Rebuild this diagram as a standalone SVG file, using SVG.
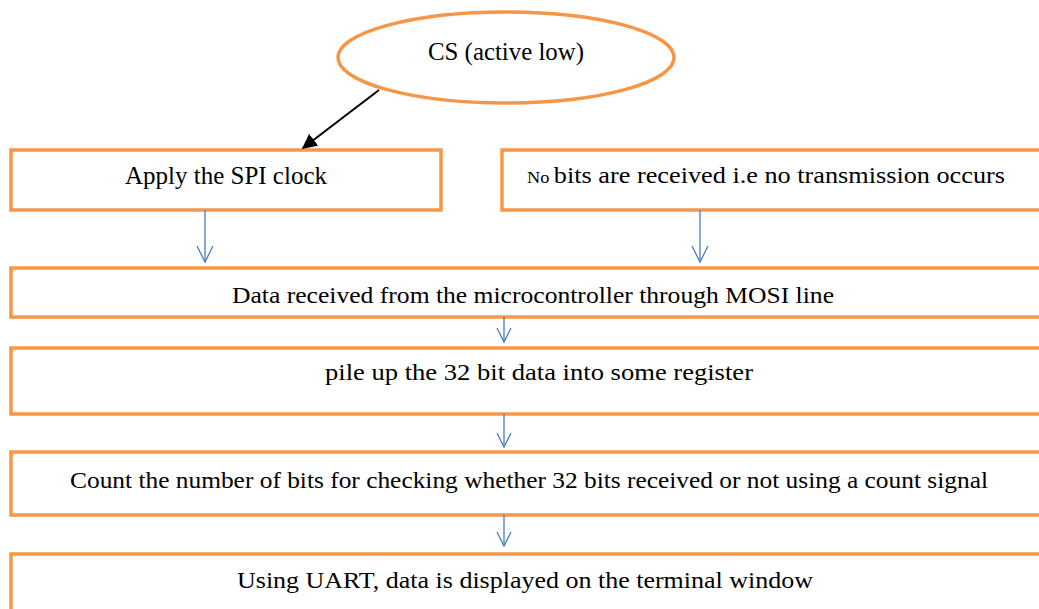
<svg xmlns="http://www.w3.org/2000/svg" width="1039" height="609" viewBox="0 0 1039 609">
  <style>
    .box { fill: #ffffff; stroke: #F79646; stroke-width: 3.5; }
    .lbl { font-family: "Liberation Serif", "Times New Roman", serif; font-size: 23px; fill: #000000; text-anchor: middle; }
    .top { font-size: 24.5px; }
    .flow { stroke: #4A7EBB; stroke-width: 1.3; fill: none; }
    .head { stroke: #4A7EBB; stroke-width: 1.3; fill: none; }
  </style>
  <defs>
    <marker id="solidArrow" viewBox="0 0 10 10" refX="9" refY="5" markerWidth="15" markerHeight="15" markerUnits="userSpaceOnUse" orient="auto">
      <path d="M0,0 L10,5 L0,10 z" fill="#000000"/>
    </marker>
  </defs>
  <rect width="1039" height="609" fill="#ffffff"/>

  <g id="cs">
    <ellipse class="box" cx="506" cy="57.5" rx="168" ry="45.5"/>
    <text class="lbl top" x="506" y="60" textLength="156" lengthAdjust="spacingAndGlyphs">CS (active low)</text>
  </g>

  <g id="apply-clock">
    <rect class="box" x="11" y="150" width="430" height="60"/>
    <text class="lbl top" x="226" y="184" textLength="202" lengthAdjust="spacingAndGlyphs">Apply the SPI clock</text>
  </g>

  <g id="no-bits">
    <rect class="box" x="502" y="150" width="545" height="60"/>
    <text class="lbl" x="766" y="183" textLength="478" lengthAdjust="spacingAndGlyphs"><tspan font-size="16">No </tspan>bits are received i.e no transmission occurs</text>
  </g>

  <g id="data-received">
    <rect class="box" x="11" y="268" width="1040" height="49"/>
    <text class="lbl" x="533" y="303" textLength="602" lengthAdjust="spacingAndGlyphs">Data received from the microcontroller through MOSI line</text>
  </g>

  <g id="pile-up">
    <rect class="box" x="11" y="348" width="1040" height="66"/>
    <text class="lbl" x="539" y="380" textLength="428" lengthAdjust="spacingAndGlyphs">pile up the 32 bit data into some register</text>
  </g>

  <g id="count-bits">
    <rect class="box" x="11" y="452" width="1040" height="63"/>
    <text class="lbl" x="529" y="488" textLength="918" lengthAdjust="spacingAndGlyphs">Count the number of bits for checking whether 32 bits received or not using a count signal</text>
  </g>

  <g id="uart">
    <rect class="box" x="11" y="554" width="1040" height="70"/>
    <text class="lbl" x="525" y="588" textLength="576" lengthAdjust="spacingAndGlyphs">Using UART, data is displayed on the terminal window</text>
  </g>

  <g id="connectors">
    <line x1="379" y1="90" x2="303" y2="148" stroke="#000000" stroke-width="2" marker-end="url(#solidArrow)"/>

    <line class="flow" x1="205" y1="210" x2="205" y2="262"/>
    <polyline class="head" points="197,246 205,262 213,246"/>

    <line class="flow" x1="700" y1="210" x2="700" y2="262"/>
    <polyline class="head" points="692,246 700,262 708,246"/>

    <line class="flow" x1="504" y1="317" x2="504" y2="342"/>
    <polyline class="head" points="497,328 504,342 511,328"/>

    <line class="flow" x1="504" y1="414" x2="504" y2="447"/>
    <polyline class="head" points="497,433 504,447 511,433"/>

    <line class="flow" x1="504" y1="515" x2="504" y2="546"/>
    <polyline class="head" points="497,532 504,546 511,532"/>
  </g>
</svg>
